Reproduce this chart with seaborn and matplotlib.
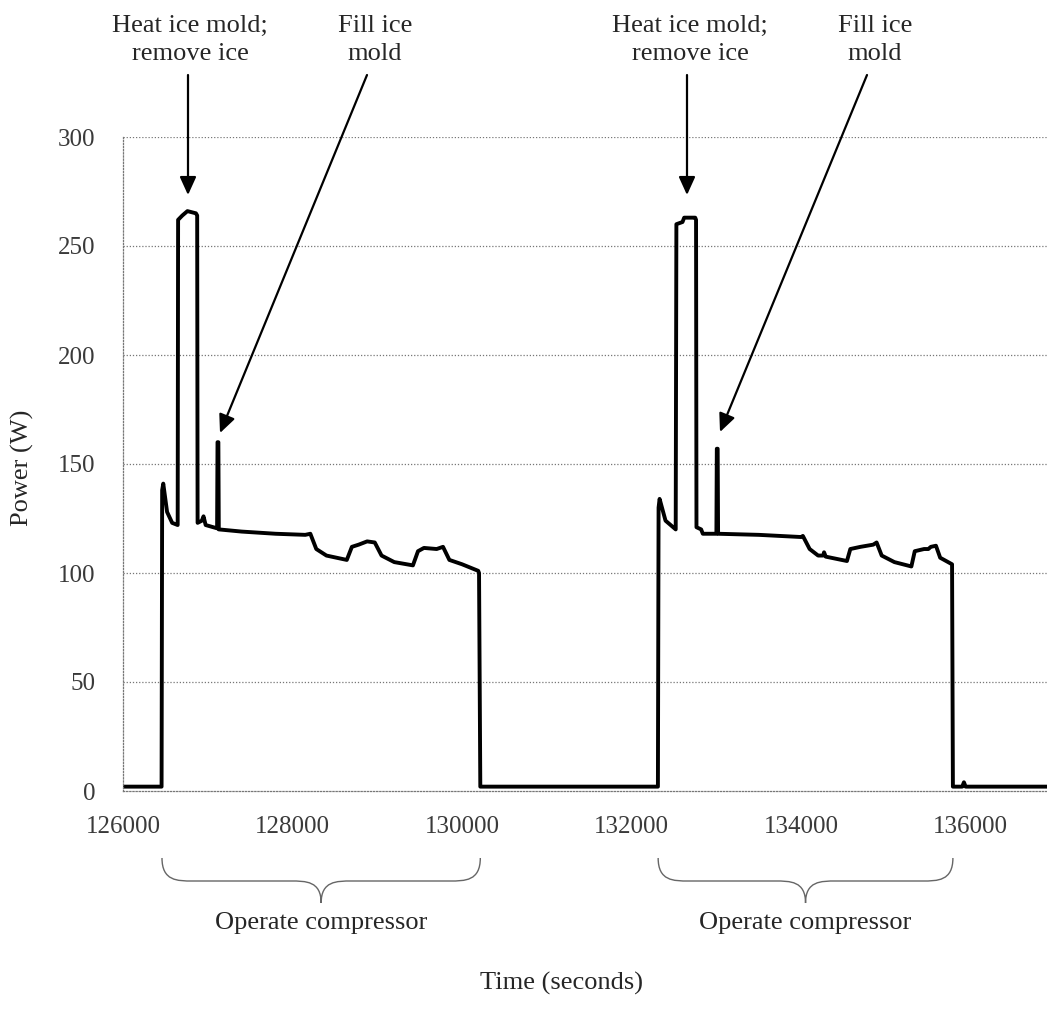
import numpy as np
import pandas as pd
import matplotlib
matplotlib.use("Agg")
import matplotlib.pyplot as plt
import matplotlib.transforms as mtransforms
from matplotlib.path import Path
from matplotlib.patches import PathPatch
import seaborn as sns

# power trace (seconds, watts)
time_s = [126000, 126455, 126462, 126475, 126520, 126580, 126645, 126650, 126700,
          126760, 126860, 126875, 126880, 126930, 126950, 126975, 127110, 127115,
          127125, 127130, 127400, 127800, 128150, 128210, 128280, 128400, 128640,
          128700, 128780, 128880, 128970, 129050, 129200, 129420, 129480, 129550,
          129700, 129775, 129850, 130000, 130190, 130200, 130215,
          132310, 132318, 132330, 132400, 132520, 132528, 132600, 132620, 132750,
          132760, 132765, 132820, 132840, 133000, 133005, 133015, 133020, 133500,
          134000, 134020, 134100, 134200, 134260, 134270, 134290, 134540, 134580,
          134700, 134850, 134890, 134950, 135100, 135300, 135340, 135450, 135500,
          135530, 135590, 135640, 135780, 135790, 135900, 135920, 135940, 136900]
power_w = [2, 2, 138, 141, 128, 123, 122, 262, 264,
           266, 265, 264, 123, 124, 126, 122, 120.5, 160,
           160, 120, 119, 118, 117.5, 118, 111, 108, 106,
           112, 113, 114.5, 114, 108, 105, 103.5, 110, 111.5,
           111, 112, 106, 104, 101, 100, 2,
           2, 130, 134, 124, 120, 260, 261, 263, 263,
           262, 121, 120, 118, 118, 157, 157, 118, 117.5,
           116.5, 117, 111, 108, 108, 109.5, 107.5, 105.5, 111,
           112, 113, 114, 108, 105, 103, 110, 111, 111,
           112, 112.5, 107, 104, 2, 2, 4, 2, 2]

x_ticks = [126000, 128000, 130000, 132000, 134000, 136000]
y_ticks = [0, 50, 100, 150, 200, 250, 300]

# compressor on periods (for the braces)
compressor_on = [(126460, 130215), (132313, 135790)]

df = pd.DataFrame({"time": time_s, "power": power_w})

sns.set_style("white")
plt.rcParams["font.family"] = ["Liberation Serif", "DejaVu Serif"]

W, H = 1047, 1017
fig = plt.figure(figsize=(W / 100, H / 100), dpi=100)
ax = fig.add_axes([123 / W, 1 - 791 / H, (W - 123) / W, (791 - 137) / H])


def fpx(x, y):
    # image pixel (top-left origin) -> figure fraction
    return (x / W, 1 - y / H)


sns.lineplot(data=df, x="time", y="power", sort=False, estimator=None,
             color="black", linewidth=2.8, ax=ax)

ax.set_xlim(126000, 136900)
ax.set_ylim(0, 300)
ax.set_xticks(x_ticks)
ax.set_yticks(y_ticks)
ax.set_xticklabels([str(t) for t in x_ticks])
ax.set_yticklabels([str(t) for t in y_ticks])
ax.tick_params(axis="both", labelsize=18, labelcolor="#3a3a3a", color="#888888",
               direction="out", length=6, width=0.8)
ax.tick_params(axis="y", pad=14)
ax.tick_params(axis="x", pad=12)
ax.set_xlabel("")
ax.set_ylabel("")

for y in y_ticks[1:]:
    ax.axhline(y, color="#777777", linestyle=(0, (1, 1.5)), linewidth=0.9, zorder=0)
for side in ["top", "right"]:
    ax.spines[side].set_visible(False)
for side in ["left", "bottom"]:
    ax.spines[side].set_color("#777777")
    ax.spines[side].set_linestyle((0, (1, 1.5)))
    ax.spines[side].set_linewidth(0.9)

# annotations above the chart
arrow = dict(arrowstyle="-|>,head_length=0.55,head_width=0.25", color="black",
             lw=1.6, shrinkA=0, shrinkB=0, mutation_scale=20)
notes = [
    ("Heat ice mold;\nremove ice", (190, 40), (188, 75), (188, 195)),
    ("Fill ice\nmold", (375, 40), (367, 75), (220, 433)),
    ("Heat ice mold;\nremove ice", (690, 40), (687, 75), (687, 195)),
    ("Fill ice\nmold", (875, 40), (867, 75), (720, 432)),
]
for label, tpos, start, tip in notes:
    fig.text(*fpx(*tpos), label, ha="center", va="center", fontsize=19,
             linespacing=1.35)
    ax.annotate("", xy=fpx(*tip), xycoords="figure fraction",
                xytext=fpx(*start), textcoords="figure fraction",
                arrowprops=arrow, annotation_clip=False)

# braces under the compressor periods
trans = mtransforms.blended_transform_factory(ax.transData, fig.transFigure)
y_top, y_mid, y_tip = 1 - 858 / H, 1 - 881 / H, 1 - 903 / H
for t0, t1 in compressor_on:
    tm = (t0 + t1) / 2
    d = 180
    verts = [(t0, y_top), (t0, y_mid), (t0 + d, y_mid), (t0 + 2 * d, y_mid),
             (tm - 2 * d, y_mid),
             (tm - d, y_mid), (tm, y_mid), (tm, y_tip),
             (tm, y_mid), (tm + d, y_mid), (tm + 2 * d, y_mid),
             (t1 - 2 * d, y_mid),
             (t1 - d, y_mid), (t1, y_mid), (t1, y_top)]
    codes = [Path.MOVETO, Path.CURVE4, Path.CURVE4, Path.CURVE4,
             Path.LINETO,
             Path.CURVE4, Path.CURVE4, Path.CURVE4,
             Path.CURVE4, Path.CURVE4, Path.CURVE4,
             Path.LINETO,
             Path.CURVE4, Path.CURVE4, Path.CURVE4]
    patch = PathPatch(Path(verts, codes), transform=trans, fill=False,
                      edgecolor="#666666", linewidth=1.0, clip_on=False)
    ax.add_patch(patch)
    fig.text(trans.transform((tm, 0))[0] / fig.bbox.width, 1 - 923 / H,
             "Operate compressor", ha="center", va="center", fontsize=19)

fig.text(*fpx(562, 983), "Time (seconds)", ha="center", va="center", fontsize=19)
fig.text(*fpx(22, 468), "Power (W)", ha="center", va="center", fontsize=19,
         rotation=90)

fig.savefig("out.png", dpi=100)
